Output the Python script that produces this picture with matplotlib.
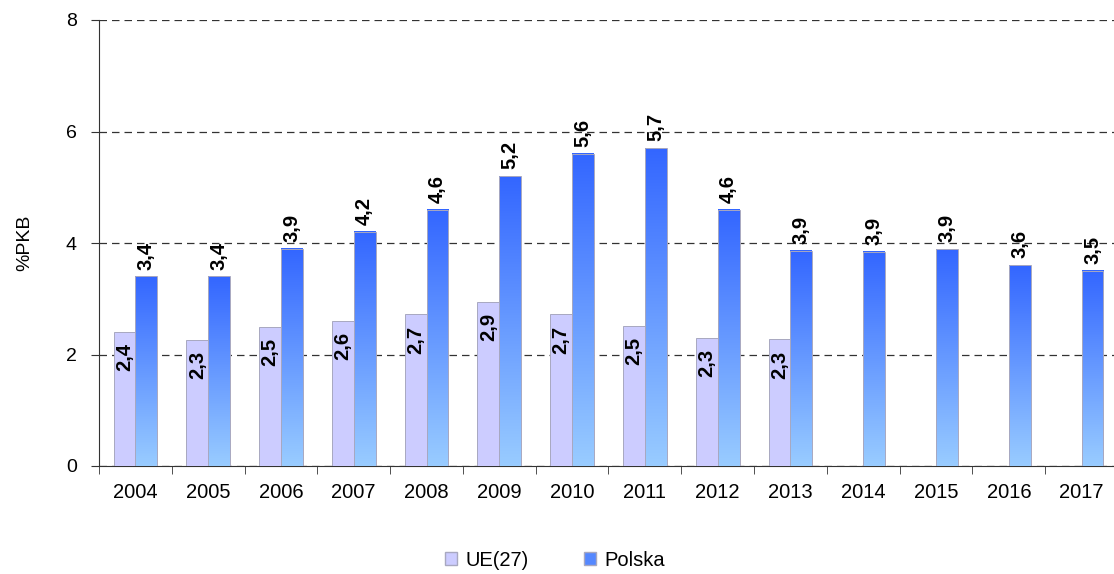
import matplotlib
matplotlib.use("Agg")
import matplotlib.pyplot as plt
import numpy as np
from matplotlib.colors import LinearSegmentedColormap
from matplotlib.patches import Patch

years = ["2004", "2005", "2006", "2007", "2008", "2009", "2010", "2011",
         "2012", "2013", "2014", "2015", "2016", "2017"]
ue_vals = [2.40, 2.26, 2.50, 2.60, 2.72, 2.94, 2.72, 2.52, 2.30, 2.27]
ue_labels = ["2,4", "2,3", "2,5", "2,6", "2,7", "2,9", "2,7", "2,5", "2,3", "2,3"]
pl_vals = [3.40, 3.40, 3.90, 4.20, 4.60, 5.20, 5.60, 5.70, 4.60, 3.86,
           3.84, 3.89, 3.60, 3.50]
pl_labels = ["3,4", "3,4", "3,9", "4,2", "4,6", "5,2", "5,6", "5,7", "4,6",
             "3,9", "3,9", "3,9", "3,6", "3,5"]

plt.rcParams['font.family'] = ['Liberation Sans', 'DejaVu Sans']
label_family = ['Liberation Sans Narrow', 'Liberation Sans', 'DejaVu Sans']

fig = plt.figure(figsize=(11.14, 5.74), dpi=100)
ax = fig.add_axes([99/1114, 1 - 466/574, (1118-99)/1114, (466-20)/574])

x = np.arange(len(years))
w = 0.3
ue_color = "#CCCCFF"
edge = "#A8A8C0"
cmap = LinearSegmentedColormap.from_list("pl", ["#99CCFF", "#3366FF"])
grad = np.linspace(0, 1, 256).reshape(-1, 1)

# UE bars
ue_bars = ax.bar(x[:len(ue_vals)] - w/2, ue_vals, width=w, color=ue_color,
                 edgecolor=edge, linewidth=0.7, zorder=3)

# Polska bars with gradient
pl_bars = ax.bar(x + w/2, pl_vals, width=w, color="none",
                 edgecolor=edge, linewidth=0.7, zorder=4)
for b in pl_bars:
    x0, y0 = b.get_x(), b.get_y()
    bw, bh = b.get_width(), b.get_height()
    ax.imshow(grad, cmap=cmap, origin="lower", aspect="auto",
              extent=[x0, x0 + bw, y0, y0 + bh], zorder=3.5,
              interpolation="bilinear")
ax.set_xlim(-0.5, len(years) - 0.5)
ax.set_ylim(0, 8)

# value labels
for b, lab in zip(ue_bars, ue_labels):
    ax.annotate(lab, (b.get_x() + b.get_width()/2, b.get_height()),
                xytext=(0, -8), textcoords="offset points",
                rotation=90, ha="center", va="top", fontsize=14.5,
                fontweight="bold", family=label_family, zorder=6)
for b, lab in zip(pl_bars, pl_labels):
    ax.annotate(lab, (b.get_x() + b.get_width()/2, b.get_height()),
                xytext=(0, 5), textcoords="offset points",
                rotation=90, ha="center", va="bottom", fontsize=14.5,
                fontweight="bold", family=label_family, zorder=6)

# grid and axes
ax.set_yticks([0, 2, 4, 6, 8])
ax.yaxis.grid(True, linestyle=(0, (6, 4)), color="#333333", linewidth=0.9)
ax.set_axisbelow(True)
ax.tick_params(axis="y", direction="out", length=6, color="#333333",
               labelsize=14, pad=10)
ax.set_xticks(x)
ax.set_xticklabels(years, fontsize=14.5)
ax.set_xticks(np.arange(-0.5, len(years), 1), minor=True)
ax.tick_params(axis="x", which="major", length=0, pad=12)
ax.tick_params(axis="x", which="minor", direction="out", length=6,
               color="#333333")
for s in ["top", "right"]:
    ax.spines[s].set_visible(False)
ax.spines["left"].set_color("#333333")
ax.spines["bottom"].set_color("#333333")
ax.set_ylabel("%PKB", fontsize=14)
ax.yaxis.set_label_coords(-(99 - 33) / (1118 - 99), 0.5)

handles = [Patch(facecolor=ue_color, edgecolor=edge, label="UE(27)"),
           Patch(facecolor="#5588FF", edgecolor=edge, label="Polska")]
fig.legend(handles=handles, loc="center", bbox_to_anchor=(555/1114, 1 - 560/574),
           ncol=2, frameon=False, fontsize=14.5, handlelength=0.6,
           handleheight=0.6, columnspacing=2.75, handletextpad=0.4)

fig.savefig("out.png", dpi=100)
